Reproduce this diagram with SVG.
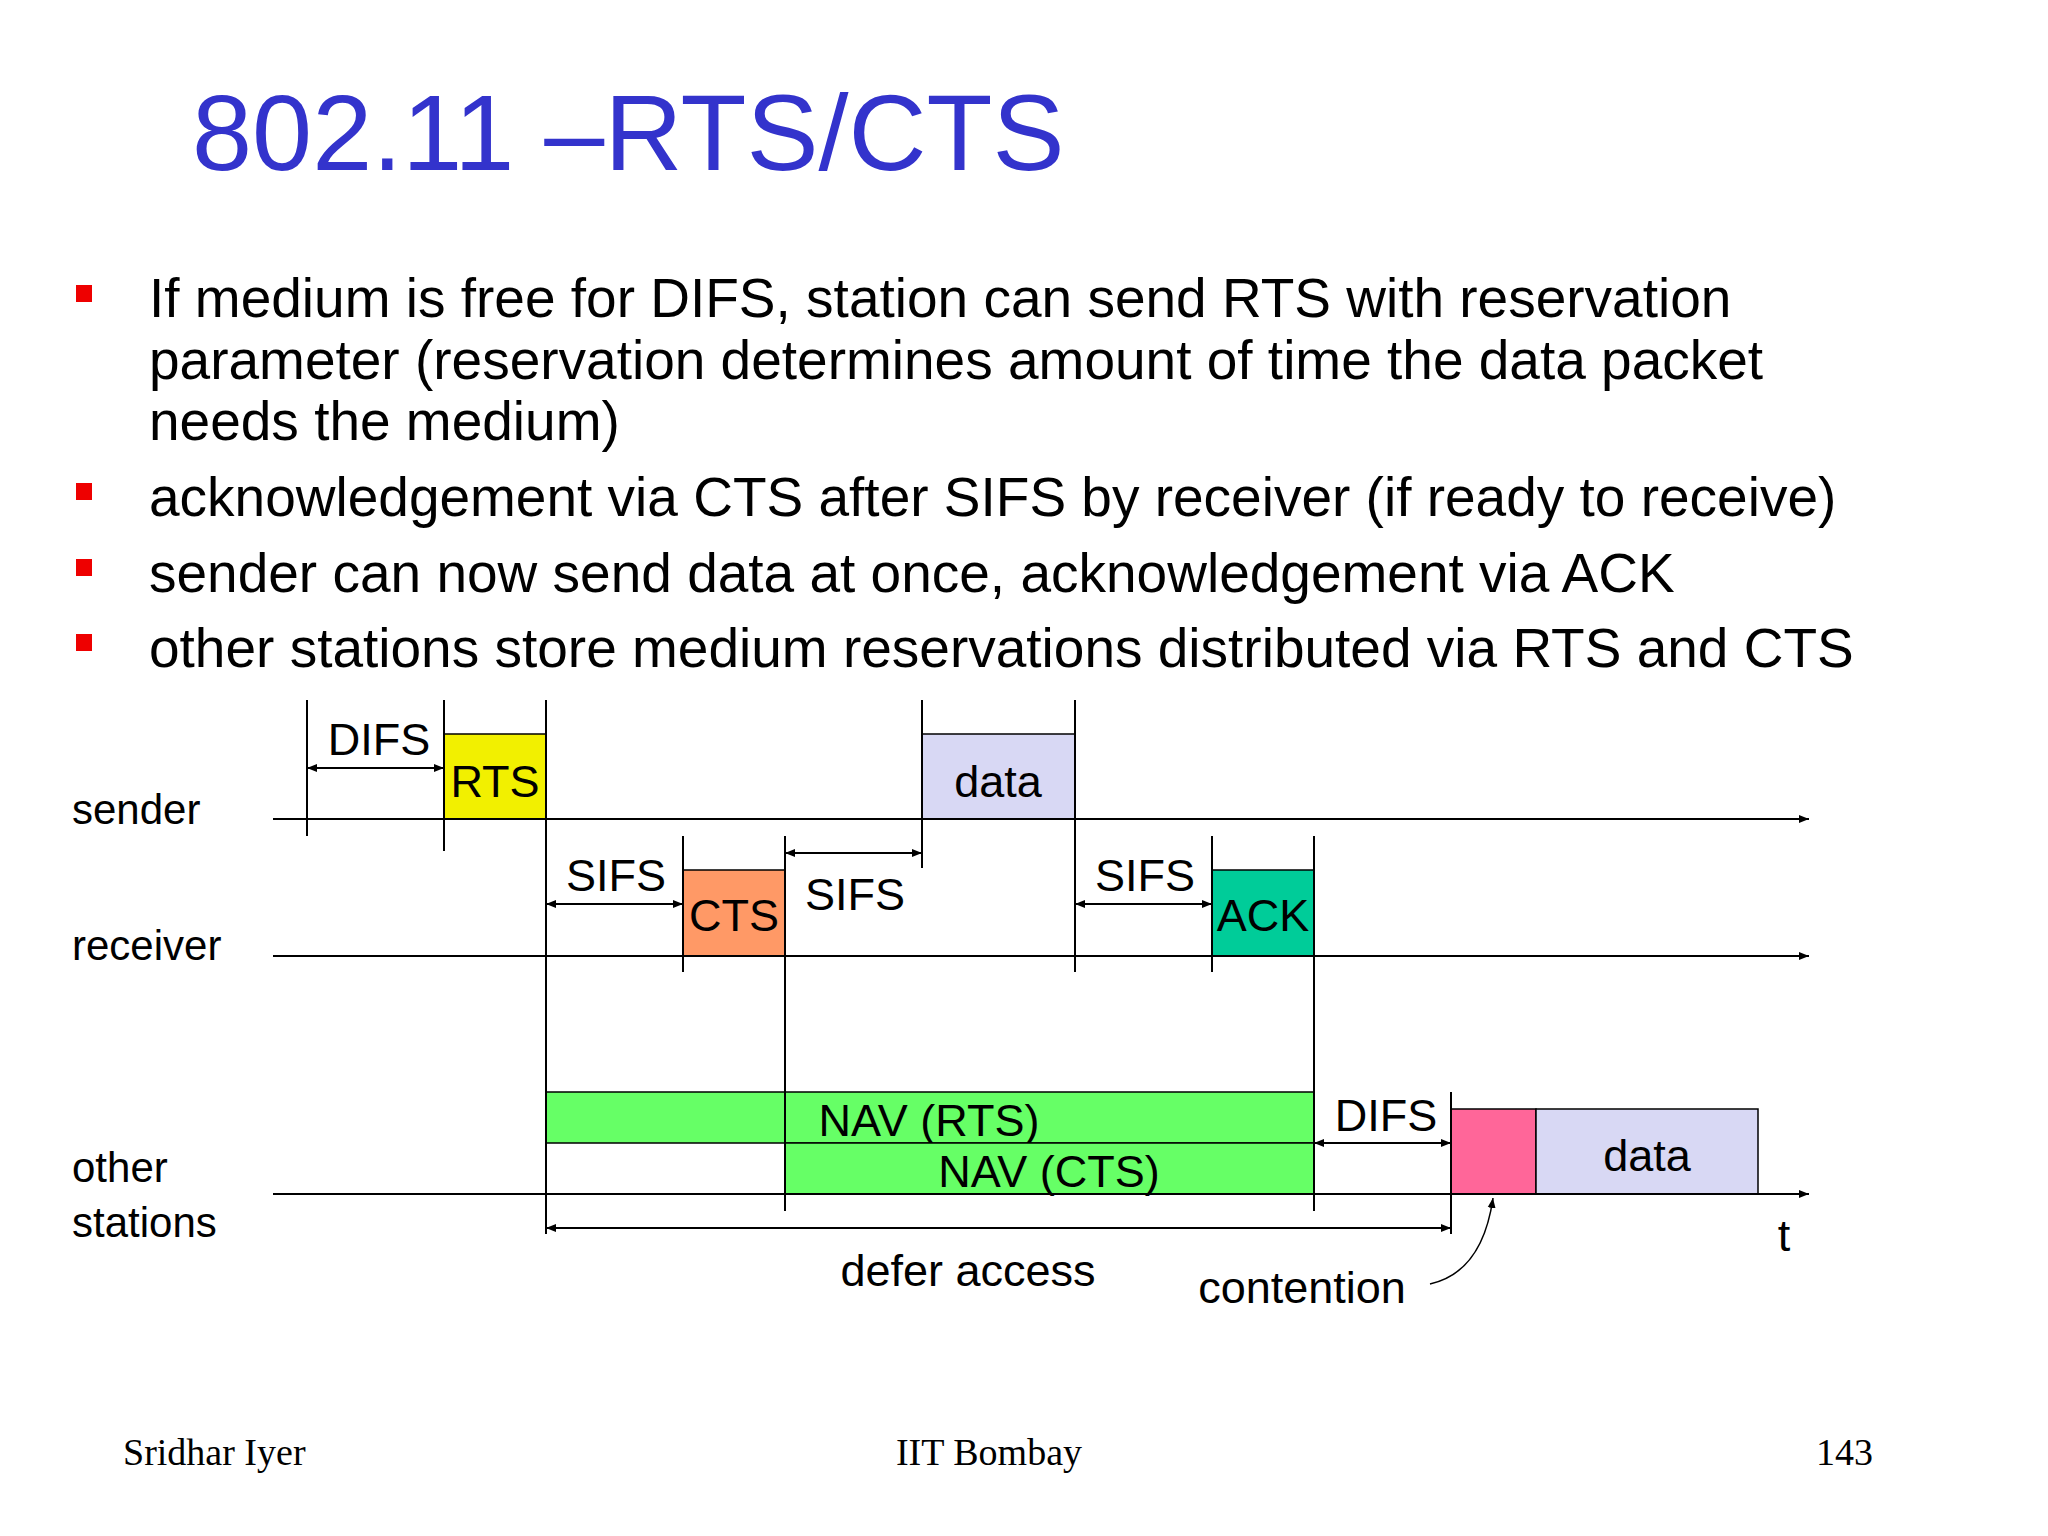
<svg xmlns="http://www.w3.org/2000/svg" width="2048" height="1536" viewBox="0 0 2048 1536">
<defs>
<marker id="a" viewBox="0 0 10 10" refX="10" refY="5" markerWidth="10" markerHeight="10" markerUnits="userSpaceOnUse" orient="auto-start-reverse"><path d="M0,1 L10,5 L0,9 z" fill="#000"/></marker>
<style>
text{font-family:"Liberation Sans",Arial,sans-serif;fill:#000}
.b{font-size:55px}
.l{font-size:42px}
.d{font-size:45px}
.m{text-anchor:middle}
.ln{stroke:#000;stroke-width:2;fill:none}
.box{stroke:#000;stroke-width:1.5}
.f{font-family:"Liberation Serif","Times New Roman",serif;font-size:38px}
</style>
</defs>
<rect width="2048" height="1536" fill="#fff"/>
<text x="192" y="170" style="font-size:108px;fill:#3333cc">802.11 –RTS/CTS</text>
<g id="bullets">
<rect x="76" y="285" width="16" height="17" fill="#e00"/>
<rect x="76" y="483" width="16" height="17" fill="#e00"/>
<rect x="76" y="559" width="16" height="17" fill="#e00"/>
<rect x="76" y="634" width="16" height="17" fill="#e00"/>
<text class="b" x="149" y="317">If medium is free for DIFS, station can send RTS with reservation</text>
<text class="b" x="149" y="379">parameter (reservation determines amount of time the data packet</text>
<text class="b" x="149" y="440">needs the medium)</text>
<text class="b" x="149" y="516">acknowledgement via CTS after SIFS by receiver (if ready to receive)</text>
<text class="b" x="149" y="592">sender can now send data at once, acknowledgement via ACK</text>
<text class="b" x="149" y="667">other stations store medium reservations distributed via RTS and CTS</text>
</g>
<g id="labels">
<text class="l" x="72" y="824">sender</text>
<text class="l" x="72" y="960">receiver</text>
<text class="l" x="72" y="1182">other</text>
<text class="l" x="72" y="1237">stations</text>
</g>
<g id="boxes">
<g id="rts"><rect class="box" x="444" y="734" width="102" height="85" fill="#f2f000"/><text class="d m" x="495" y="797">RTS</text></g>
<g id="data1"><rect class="box" x="922" y="734" width="153" height="85" fill="#d8d8f4"/><text class="d m" x="998" y="797">data</text></g>
<g id="cts"><rect class="box" x="683" y="870" width="102" height="86" fill="#ff9966"/><text class="d m" x="734" y="931">CTS</text></g>
<g id="ack"><rect class="box" x="1212" y="870" width="102" height="86" fill="#00cc99"/><text class="d m" x="1263" y="931">ACK</text></g>
<g id="navrts"><rect class="box" x="546" y="1092" width="768" height="51" fill="#66ff66"/><text class="d m" x="929" y="1136">NAV (RTS)</text></g>
<g id="navcts"><rect class="box" x="785" y="1143" width="529" height="51" fill="#66ff66"/><text class="d m" x="1049" y="1187">NAV (CTS)</text></g>
<g id="cont"><rect class="box" x="1451" y="1109" width="85" height="85" fill="#ff6699"/></g>
<g id="data2"><rect class="box" x="1536" y="1109" width="222" height="85" fill="#d8d8f4"/><text class="d m" x="1647" y="1171">data</text></g>
</g>
<g id="connectors" class="ln">
<line x1="273" y1="819" x2="1809" y2="819" marker-end="url(#a)"/>
<line x1="273" y1="956" x2="1809" y2="956" marker-end="url(#a)"/>
<line x1="273" y1="1194" x2="1809" y2="1194" marker-end="url(#a)"/>
<line x1="307" y1="700" x2="307" y2="836"/>
<line x1="444" y1="700" x2="444" y2="851"/>
<line x1="546" y1="700" x2="546" y2="1234"/>
<line x1="922" y1="700" x2="922" y2="868"/>
<line x1="1075" y1="700" x2="1075" y2="972"/>
<line x1="683" y1="836" x2="683" y2="972"/>
<line x1="785" y1="836" x2="785" y2="1211"/>
<line x1="1212" y1="836" x2="1212" y2="972"/>
<line x1="1314" y1="836" x2="1314" y2="1211"/>
<line x1="1451" y1="1092" x2="1451" y2="1234"/>
<line x1="307" y1="768" x2="444" y2="768" marker-start="url(#a)" marker-end="url(#a)"/>
<line x1="546" y1="904" x2="683" y2="904" marker-start="url(#a)" marker-end="url(#a)"/>
<line x1="785" y1="853" x2="922" y2="853" marker-start="url(#a)" marker-end="url(#a)"/>
<line x1="1075" y1="904" x2="1212" y2="904" marker-start="url(#a)" marker-end="url(#a)"/>
<line x1="1314" y1="1143" x2="1451" y2="1143" marker-start="url(#a)" marker-end="url(#a)"/>
<line x1="546" y1="1228" x2="1451" y2="1228" marker-start="url(#a)" marker-end="url(#a)"/>
<path d="M1430,1284 C1470,1275 1487,1240 1493,1198" stroke-width="1.5" marker-end="url(#a)"/>
</g>
<g id="tlabels">
<text class="d m" x="379" y="755">DIFS</text>
<text class="d m" x="616" y="891">SIFS</text>
<text class="d m" x="855" y="910">SIFS</text>
<text class="d m" x="1145" y="891">SIFS</text>
<text class="d m" x="1386" y="1131">DIFS</text>
<text class="d m" x="1784" y="1251">t</text>
<text class="d m" x="968" y="1286">defer access</text>
<text class="d m" x="1302" y="1303">contention</text>
</g>
<g id="footer">
<text class="f" x="123" y="1465">Sridhar Iyer</text>
<text class="f m" x="989" y="1465">IIT Bombay</text>
<text class="f" x="1873" y="1465" text-anchor="end">143</text>
</g>
</svg>
